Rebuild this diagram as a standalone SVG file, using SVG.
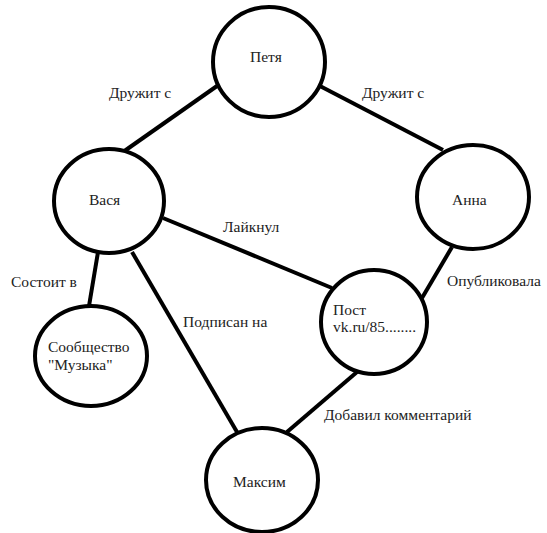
<svg xmlns="http://www.w3.org/2000/svg" width="547" height="533" viewBox="0 0 547 533">
<style>
.n{fill:#fff;stroke:#000;stroke-width:4}
.e{stroke:#000;stroke-width:4;fill:none}
text{font-size:15.5px;fill:#222}
</style>
<rect width="547" height="533" fill="#fff"/>
<g id="edges">
<line class="e" x1="123" y1="152" x2="217" y2="86"/>
<line class="e" x1="318" y1="85" x2="443" y2="150"/>
<line class="e" x1="163" y1="218" x2="332" y2="288"/>
<line class="e" x1="452" y1="247" x2="422" y2="298"/>
<line class="e" x1="98" y1="252" x2="89" y2="306"/>
<line class="e" x1="132" y1="252" x2="237" y2="432"/>
<line class="e" x1="287" y1="432" x2="357" y2="372"/>
</g>
<g font-family="Liberation Serif">
<g id="petya"><ellipse class="n" cx="269" cy="62" rx="56" ry="55"/><text x="250" y="62">Петя</text></g>
<g id="vasya"><ellipse class="n" cx="109" cy="201" rx="55" ry="52"/><text x="89" y="205">Вася</text></g>
<g id="anna"><ellipse class="n" cx="473" cy="197" rx="56" ry="52"/><text x="452" y="205">Анна</text></g>
<g id="post"><ellipse class="n" cx="374" cy="322" rx="53" ry="52"/><text x="333" y="315">Пост</text><text x="333" y="332">vk.ru/85........</text></g>
<g id="community"><ellipse class="n" cx="91" cy="356" rx="56" ry="50"/><text x="48" y="352">Сообщество</text><text x="48" y="370">"Музыка"</text></g>
<g id="maksim"><ellipse class="n" cx="262" cy="480" rx="56" ry="52"/><text x="233" y="487">Максим</text></g>
<g id="labels">
<text x="109" y="98">Дружит с</text>
<text x="362" y="98">Дружит с</text>
<text x="223" y="232">Лайкнул</text>
<text x="183" y="327">Подписан на</text>
<text x="447" y="286">Опубликовала</text>
<text x="11" y="287">Состоит в</text>
<text x="324" y="420">Добавил комментарий</text>
</g>
</g>
</svg>
